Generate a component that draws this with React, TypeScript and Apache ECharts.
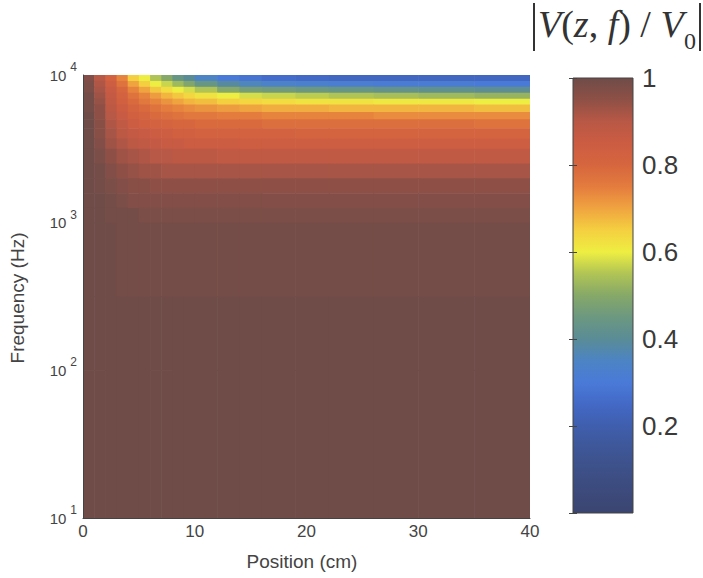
import React, { useEffect, useRef } from 'react';
import * as echarts from 'echarts';

// Column edges along the line (cm)
const positionEdges = [0, 1, 2, 3, 4, 5, 6, 7, 8, 9, 10, 12, 14, 16, 19, 22, 26, 30, 35, 40];
// Row edges, log10(frequency / Hz), top to bottom
const freqExponentEdges = [4.0, 3.96, 3.92, 3.88, 3.84, 3.8, 3.75, 3.7, 3.64, 3.57, 3.5, 3.4, 3.3, 3.2, 3.1, 3.0, 2.5, 2.0, 1.0];
// |V(z,f)/V0|, one row per frequency band (top to bottom), one value per position column
const magnitudeRows = [
  [0.97, 0.90, 0.82, 0.74, 0.65, 0.60, 0.55, 0.50, 0.44, 0.40, 0.35, 0.30, 0.28, 0.26, 0.25, 0.24, 0.24, 0.24, 0.24],
  [0.98, 0.91, 0.84, 0.77, 0.70, 0.65, 0.60, 0.57, 0.53, 0.49, 0.44, 0.39, 0.36, 0.34, 0.33, 0.32, 0.31, 0.31, 0.30],
  [0.98, 0.92, 0.86, 0.80, 0.74, 0.70, 0.66, 0.63, 0.60, 0.58, 0.55, 0.50, 0.47, 0.46, 0.45, 0.44, 0.43, 0.42, 0.41],
  [0.99, 0.93, 0.87, 0.82, 0.77, 0.74, 0.71, 0.68, 0.66, 0.64, 0.62, 0.60, 0.58, 0.57, 0.56, 0.55, 0.54, 0.53, 0.52],
  [0.99, 0.94, 0.88, 0.83, 0.79, 0.76, 0.74, 0.72, 0.70, 0.68, 0.67, 0.65, 0.64, 0.63, 0.62, 0.62, 0.61, 0.61, 0.60],
  [0.99, 0.95, 0.89, 0.85, 0.81, 0.79, 0.77, 0.75, 0.74, 0.73, 0.72, 0.71, 0.70, 0.69, 0.69, 0.68, 0.68, 0.68, 0.67],
  [1.00, 0.95, 0.90, 0.86, 0.83, 0.81, 0.79, 0.78, 0.77, 0.76, 0.76, 0.75, 0.75, 0.74, 0.74, 0.74, 0.73, 0.73, 0.73],
  [1.00, 0.96, 0.91, 0.88, 0.85, 0.83, 0.82, 0.81, 0.80, 0.80, 0.79, 0.79, 0.79, 0.78, 0.78, 0.78, 0.78, 0.78, 0.77],
  [1.00, 0.96, 0.92, 0.89, 0.87, 0.86, 0.85, 0.84, 0.83, 0.83, 0.82, 0.82, 0.82, 0.82, 0.81, 0.81, 0.81, 0.81, 0.81],
  [1.00, 0.97, 0.93, 0.91, 0.89, 0.88, 0.87, 0.86, 0.86, 0.85, 0.85, 0.85, 0.84, 0.84, 0.84, 0.84, 0.84, 0.84, 0.84],
  [1.00, 0.98, 0.95, 0.93, 0.92, 0.91, 0.90, 0.90, 0.89, 0.89, 0.89, 0.88, 0.88, 0.88, 0.88, 0.88, 0.88, 0.88, 0.88],
  [1.00, 0.99, 0.97, 0.95, 0.94, 0.93, 0.93, 0.92, 0.92, 0.92, 0.92, 0.92, 0.92, 0.92, 0.92, 0.92, 0.92, 0.92, 0.92],
  [1.00, 0.99, 0.98, 0.97, 0.96, 0.96, 0.95, 0.95, 0.95, 0.95, 0.95, 0.95, 0.95, 0.95, 0.95, 0.95, 0.95, 0.95, 0.95],
  [1.00, 1.00, 0.99, 0.98, 0.97, 0.97, 0.97, 0.97, 0.97, 0.97, 0.97, 0.97, 0.97, 0.97, 0.97, 0.97, 0.97, 0.97, 0.97],
  [1.00, 1.00, 0.99, 0.99, 0.99, 0.98, 0.98, 0.98, 0.98, 0.98, 0.98, 0.98, 0.98, 0.98, 0.98, 0.98, 0.98, 0.98, 0.98],
  [1.00, 1.00, 1.00, 0.99, 0.99, 0.99, 0.99, 0.99, 0.99, 0.99, 0.99, 0.99, 0.99, 0.99, 0.99, 0.99, 0.99, 0.99, 0.99],
  [1.00, 1.00, 1.00, 1.00, 1.00, 1.00, 1.00, 1.00, 1.00, 1.00, 1.00, 1.00, 1.00, 1.00, 1.00, 1.00, 1.00, 1.00, 1.00],
  [1.00, 1.00, 1.00, 1.00, 1.00, 1.00, 1.00, 1.00, 1.00, 1.00, 1.00, 1.00, 1.00, 1.00, 1.00, 1.00, 1.00, 1.00, 1.00],
];
// Colormap, evenly spaced from 0 to 1
const colormap = [
  '#3b4570', '#3c4a7c', '#3d5088', '#3e5798', '#3f5ead', '#4369c6', '#4a7ad8',
  '#4c84c4', '#5a8c96', '#6c9880', '#86a868', '#b0c455', '#eeee42', '#f4d040',
  '#f0a440', '#e47c3e', '#d6663e', '#cc5c42', '#b85846', '#8e5046', '#6f4c48',
];
const positionTicks = [0, 10, 20, 30, 40];
const colorbarTicks = [0.2, 0.4, 0.6, 0.8, 1];

const SANS = '"Liberation Sans", Arial, sans-serif';
const SERIF = '"Liberation Serif", "Times New Roman", serif';

export default function App() {
  const ref = useRef<HTMLDivElement>(null);

  useEffect(() => {
    if (!ref.current) return;
    const chart = echarts.init(ref.current, null, { renderer: 'svg' });

    const cells: number[][] = [];
    magnitudeRows.forEach((row, i) => {
      row.forEach((v, j) => {
        cells.push([
          positionEdges[j],
          positionEdges[j + 1],
          Math.pow(10, freqExponentEdges[i + 1]),
          Math.pow(10, freqExponentEdges[i]),
          v,
        ]);
      });
    });

    const gradient = new echarts.graphic.LinearGradient(
      0, 1, 0, 0,
      colormap.map((c, i) => ({ offset: i / (colormap.length - 1), color: c }))
    );

    const option: any = {
      animation: false,
      backgroundColor: '#ffffff',
      grid: [
        { left: 83, top: 75, width: 447, height: 443, containLabel: false },
        { left: 573, top: 78, width: 60, height: 435, containLabel: false },
      ],
      xAxis: [
        {
          type: 'value', gridIndex: 0, min: positionTicks[0], max: positionTicks[positionTicks.length - 1], interval: 10,
          axisLine: { show: true, lineStyle: { color: '#444', width: 1 } },
          axisTick: { show: false },
          splitLine: { show: false },
          axisLabel: { color: '#444', fontSize: 17, fontFamily: SANS, margin: 5 },
          z: 5,
        },
        { type: 'value', gridIndex: 1, min: 0, max: 1, show: false },
      ],
      yAxis: [
        {
          type: 'log', gridIndex: 0, logBase: 10, min: 10, max: 10000,
          axisLine: { show: true, lineStyle: { color: '#444', width: 1 } },
          axisTick: { show: false },
          splitLine: { show: false },
          minorTick: { show: false },
          axisLabel: {
            margin: 6,
            formatter: (v: number) => `{b|10}{e|${Math.round(Math.log10(v))}}`,
            rich: {
              b: { fontSize: 15, color: '#444', fontFamily: SANS },
              e: { fontSize: 12, color: '#444', fontFamily: SANS, padding: [0, 0, 16, 4] },
            },
          },
          z: 5,
        },
        {
          type: 'value', gridIndex: 1, min: 0, max: 1, interval: 0.2, position: 'right',
          axisLine: { show: false },
          axisTick: { show: true, inside: true, length: 4, lineStyle: { color: '#444' } },
          splitLine: { show: false },
          axisLabel: {
            color: '#3a3a3a', fontSize: 26, fontFamily: SANS, margin: 9,
            formatter: (v: number) => (colorbarTicks.some((t) => Math.abs(t - v) < 1e-6) ? String(Math.round(v * 10) / 10) : ''),
          },
          z: 5,
        },
        {
          type: 'value', gridIndex: 1, min: 0, max: 1, interval: 0.2, position: 'left',
          axisLine: { show: false },
          axisTick: { show: true, inside: true, length: 4, lineStyle: { color: '#444' } },
          splitLine: { show: false },
          axisLabel: { show: false },
          z: 5,
        },
      ],
      visualMap: {
        type: 'continuous', show: false, min: 0, max: 1, dimension: 4, seriesIndex: 0,
        inRange: { color: colormap },
      },
      series: [
        {
          type: 'custom',
          xAxisIndex: 0,
          yAxisIndex: 0,
          clip: true,
          encode: { x: [0, 1], y: [2, 3] },
          data: cells,
          renderItem: (params: any, api: any) => {
            const p0 = api.coord([api.value(0), api.value(3)]);
            const p1 = api.coord([api.value(1), api.value(2)]);
            return {
              type: 'rect',
              shape: { x: p0[0], y: p0[1], width: p1[0] - p0[0] + 0.6, height: p1[1] - p0[1] + 0.6 },
              style: { fill: api.visual('color') },
            };
          },
        },
        {
          type: 'custom',
          xAxisIndex: 1,
          yAxisIndex: 1,
          data: [[0, 1, 0, 1]],
          encode: { x: [0, 1], y: [2, 3] },
          renderItem: (params: any, api: any) => {
            const p0 = api.coord([api.value(0), api.value(3)]);
            const p1 = api.coord([api.value(1), api.value(2)]);
            return {
              type: 'rect',
              shape: { x: p0[0], y: p0[1], width: p1[0] - p0[0], height: p1[1] - p0[1] },
              style: { fill: gradient, stroke: '#444', lineWidth: 1 },
            };
          },
        },
      ],
      graphic: [
        {
          type: 'text', x: 302, y: 561,
          style: { text: 'Position (cm)', font: `19px ${SANS}`, fill: '#444', align: 'center', verticalAlign: 'middle' },
        },
        {
          type: 'text', x: 17, y: 298, rotation: Math.PI / 2,
          style: { text: 'Frequency (Hz)', font: `19px ${SANS}`, fill: '#444', align: 'center', verticalAlign: 'middle' },
        },
        { type: 'line', shape: { x1: 534, y1: 3, x2: 534, y2: 51 }, style: { stroke: '#333', lineWidth: 2 } },
        { type: 'line', shape: { x1: 700, y1: 3, x2: 700, y2: 51 }, style: { stroke: '#333', lineWidth: 2 } },
        {
          type: 'text', x: 538, y: 24,
          style: {
            text: '{i|V}{n|(}{i|z}{n|, }{i|f}{n|) / }{i|V}',
            verticalAlign: 'middle',
            rich: {
              i: { fontFamily: SERIF, fontStyle: 'italic', fontSize: 38, fill: '#333' },
              n: { fontFamily: SERIF, fontSize: 38, fill: '#333' },
            },
          },
        },
        {
          type: 'text', x: 684, y: 41,
          style: { text: '0', font: `24px ${SERIF}`, fill: '#333', verticalAlign: 'middle' },
        },
      ],
    };

    chart.setOption(option);
    return () => chart.dispose();
  }, []);

  return (
    <div
      ref={ref}
      style={{ position: 'fixed', left: 0, top: 0, width: 703, height: 578, background: '#ffffff' }}
    />
  );
}
